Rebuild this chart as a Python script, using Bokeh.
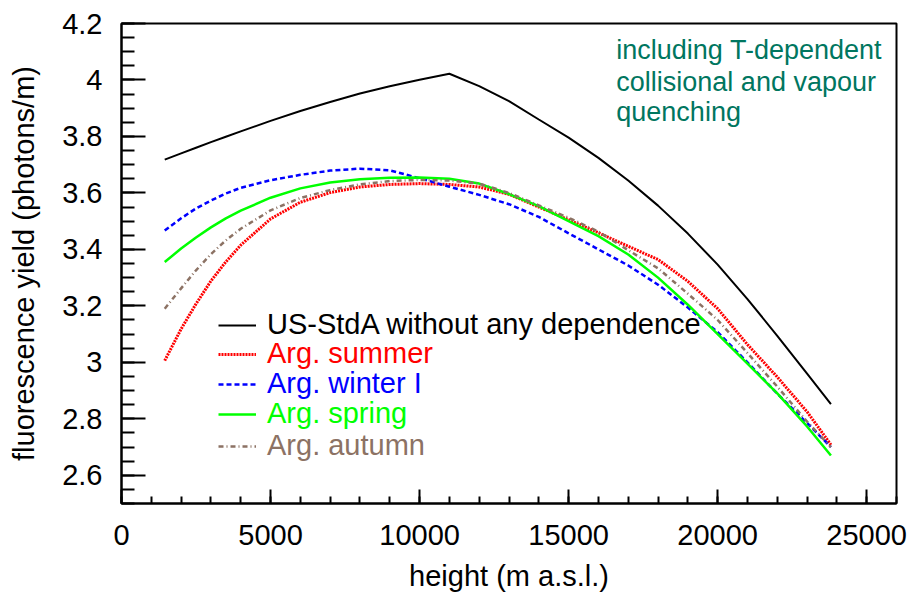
from bokeh.plotting import figure
from bokeh.models import (Range1d, SingleIntervalTicker, CustomJSTickFormatter,
                          Legend, LegendItem, Label)
from bokeh.embed import file_html
from bokeh.resources import INLINE

# Height above sea level (m)
height_m = [1450, 2000, 2500, 3000, 3500, 4000, 5000, 6000, 7000, 8000, 9000, 10000,
            11000, 12000, 13000, 14000, 15000, 16000, 17000, 18000, 19000, 20000,
            21000, 22000, 23000, 23800]

# Fluorescence yield (photons/m) for each atmosphere model
us_std = [3.718, 3.740, 3.760, 3.780, 3.799, 3.818, 3.855, 3.890, 3.922, 3.952, 3.978,
          4.001, 4.022, 3.978, 3.925, 3.860, 3.796, 3.724, 3.644, 3.555, 3.456,
          3.346, 3.224, 3.094, 2.960, 2.852]
arg_summer = [3.006, 3.118, 3.207, 3.288, 3.356, 3.415, 3.508, 3.567, 3.601, 3.621, 3.630,
              3.633, 3.630, 3.621, 3.595, 3.550, 3.505, 3.459, 3.411, 3.364, 3.287,
              3.190, 3.063, 2.948, 2.825, 2.708]
arg_winter = [3.467, 3.510, 3.545, 3.573, 3.598, 3.618, 3.645, 3.664, 3.679, 3.686, 3.680,
              3.652, 3.622, 3.593, 3.560, 3.515, 3.457, 3.400, 3.343, 3.275, 3.194,
              3.107, 3.000, 2.889, 2.785, 2.700]
arg_spring = [3.355, 3.403, 3.442, 3.478, 3.510, 3.537, 3.583, 3.616, 3.637, 3.648, 3.654,
              3.655, 3.650, 3.633, 3.596, 3.553, 3.500, 3.447, 3.382, 3.300, 3.204,
              3.100, 2.995, 2.890, 2.773, 2.670]
arg_autumn = [3.190, 3.262, 3.326, 3.383, 3.432, 3.473, 3.538, 3.582, 3.610, 3.630, 3.642,
              3.646, 3.644, 3.633, 3.600, 3.556, 3.512, 3.463, 3.397, 3.333, 3.243,
              3.150, 3.033, 2.914, 2.790, 2.700]

series_labels = ["US-StdA without any dependence", "Arg. summer", "Arg. winter I",
                 "Arg. spring", "Arg. autumn"]
note_lines = ["including T-dependent", "collisional and vapour", "quenching"]

FONT = "Liberation Sans"
NOTE_COLOR = "#00765f"

p = figure(width=922, height=600, output_backend="svg", toolbar_location=None,
           x_range=Range1d(0, 26000), y_range=Range1d(2.5, 4.2),
           min_border_left=121, min_border_right=26, min_border_top=23,
           min_border_bottom=97)
p.xgrid.visible = False
p.ygrid.visible = False
p.outline_line_color = "black"
p.outline_line_width = 2
p.background_fill_color = "white"
p.border_fill_color = "white"

# Axes: ticks pointing into the frame, minor ticks between majors
fmt = CustomJSTickFormatter(code="return String(Math.round(tick * 100) / 100);")
xa = p.xaxis[0]
xa.ticker = SingleIntervalTicker(interval=5000, num_minor_ticks=5)
xa.major_tick_in, xa.major_tick_out = 14, 0
xa.minor_tick_in, xa.minor_tick_out = 7, 0
ya = p.yaxis[0]
ya.ticker = SingleIntervalTicker(interval=0.2, num_minor_ticks=4)
ya.major_tick_in, ya.major_tick_out = 24, 0
ya.minor_tick_in, ya.minor_tick_out = 13, 0
for ax in (xa, ya):
    ax.formatter = fmt
    ax.axis_line_width = 2
    ax.major_tick_line_width = 2
    ax.minor_tick_line_width = 2
    ax.major_label_text_font = FONT
    ax.major_label_text_font_size = "29px"
    ax.major_label_text_color = "black"
    ax.axis_label_text_font = FONT
    ax.axis_label_text_font_size = "29px"
    ax.axis_label_text_font_style = "normal"
    ax.axis_label_text_color = "black"
xa.axis_label = "height (m a.s.l.)"
ya.axis_label = "fluorescence yield (photons/m)"
xa.major_label_standoff = 21
xa.axis_label_standoff = 12
ya.major_label_standoff = 19
ya.axis_label_standoff = 19

styles = [
    (us_std, "black", "solid", 2),
    (arg_summer, "#ff0000", "2 1", 3),
    (arg_winter, "#0000ff", "5 3", 2.5),
    (arg_spring, "#00ff00", "solid", 2.5),
    (arg_autumn, "#8c7264", "5 3 1 3", 2.5),
]
renderers = []
for ys, color, dash, lw in styles:
    r = p.line(height_m, ys, line_color=color, line_dash=dash, line_width=lw)
    renderers.append(r)

# Legend rows, each with text in the series colour
row_bottoms = [162, 133, 103, 73, 41]
for label, r, (_, color, _, _), bottom in zip(series_labels, renderers, styles, row_bottoms):
    lg = Legend(items=[LegendItem(label=label, renderers=[r])],
                location=(97, bottom), padding=0, margin=0, spacing=0,
                border_line_color=None, background_fill_alpha=0,
                glyph_width=38, glyph_height=30, label_height=30,
                label_standoff=11, label_text_font=FONT,
                label_text_font_size="29px", label_text_color=color)
    p.add_layout(lg)

# Note in the upper right corner
note_y = [4.106, 3.992, 3.885]
for txt, yy in zip(note_lines, note_y):
    p.add_layout(Label(x=16600, y=yy, text=txt, text_color=NOTE_COLOR,
                       text_font=FONT, text_font_size="27px",
                       text_baseline="alphabetic"))

open("out.html", "w").write(file_html(p, INLINE))
